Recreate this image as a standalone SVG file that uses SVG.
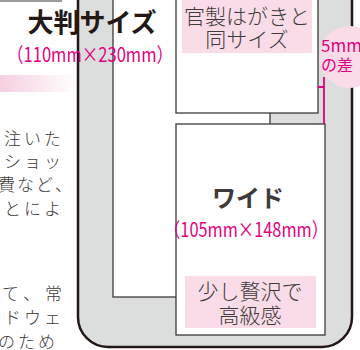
<svg xmlns="http://www.w3.org/2000/svg" width="360" height="350" viewBox="0 0 360 350">
<style>
.card{fill:#fff;stroke:#3e3a39;stroke-width:1.3}
.lbl{font-family:"Noto Sans CJK JP","Noto Sans",sans-serif;fill:#3e3a39}
.mag{font-family:"Noto Sans CJK JP","Noto Sans",sans-serif;fill:#e4007f}
.body{font-family:"Noto Sans CJK JP","Noto Sans",sans-serif;fill:#3e3a39;font-size:17px;font-weight:300}
.pinkbox{fill:#fadce9}
</style>
<defs>
<linearGradient id="band" x1="0" x2="1" y1="0" y2="0">
<stop offset="0" stop-color="#f6cfe1"/>
<stop offset="1" stop-color="#fff"/>
</linearGradient>
</defs>
<rect width="360" height="350" fill="#fff"/>
<g id="body-text">
<line x1="0" y1="1" x2="62" y2="1" stroke="#3e3a39" stroke-width="1.2"/>
<rect x="0" y="75" width="78" height="17" fill="url(#band)"/>
<text class="body" x="4 24 44" y="145">注いた</text>
<text class="body" x="4 24 44" y="168">ショッ</text>
<text class="body" x="-2 17 36 55" y="191">費など、</text>
<text class="body" x="4 24 44" y="215">とによ</text>
<text class="body" x="-17 2 23 45" y="300">って、常</text>
<text class="body" x="4 24 44" y="324">ドウェ</text>
<text class="body" x="-2 18 38" y="348">のため</text>
</g>
<g id="frame">
<path d="M78,-20 V317 A30,30 0 0 0 108,347 H322 A30,30 0 0 0 352,317 V-20 Z" fill="#dcdddd" stroke="#231815" stroke-width="2.5"/>
</g>
<g id="card-large">
<rect class="card" x="113" y="-30" width="157" height="327"/>
</g>
<g id="card-postcard">
<rect class="card" x="176" y="-97" width="142" height="210" stroke-width="1.6"/>
<rect class="pinkbox" x="182" y="0" width="130" height="53"/>
<text class="lbl" x="247" y="24" font-size="21" text-anchor="middle" font-weight="300">官製はがきと</text>
<text class="lbl" x="247" y="47" font-size="21" text-anchor="middle" font-weight="300">同サイズ</text>
</g>
<g id="card-wide">
<rect class="card" x="176" y="124" width="149" height="211" stroke-width="1.6"/>
<text class="lbl" x="248" y="207" font-size="24" text-anchor="middle" font-weight="bold" fill="#231815">ワイド</text>
<text class="mag" x="246" y="237" font-size="20" text-anchor="middle" textLength="164" lengthAdjust="spacingAndGlyphs">（105mm×148mm）</text>
<rect class="pinkbox" x="185" y="276" width="131" height="52"/>
<text class="lbl" x="250" y="299" font-size="21" text-anchor="middle" font-weight="300">少し贅沢で</text>
<text class="lbl" x="250" y="323" font-size="21" text-anchor="middle" font-weight="300">高級感</text>
</g>
<g id="title-large">
<text x="92" y="32" font-size="26" text-anchor="middle" font-weight="bold" font-family="'Noto Sans CJK JP','Noto Sans',sans-serif" fill="#231815">大判サイズ</text>
<text class="mag" x="90" y="62" font-size="20" text-anchor="middle" textLength="166" lengthAdjust="spacingAndGlyphs">（110mm×230mm）</text>
</g>
<g id="badge-5mm">
<circle cx="350" cy="57" r="31" fill="#fadce9"/>
<text class="mag" x="321" y="52" font-size="17">5mm</text>
<text class="mag" x="321" y="71" font-size="16">の差</text>
</g>
<g id="connectors">
<path d="M324,77 V124 M318,87 H324" fill="none" stroke="#e4007f" stroke-width="1.8"/>
</g>
</svg>
